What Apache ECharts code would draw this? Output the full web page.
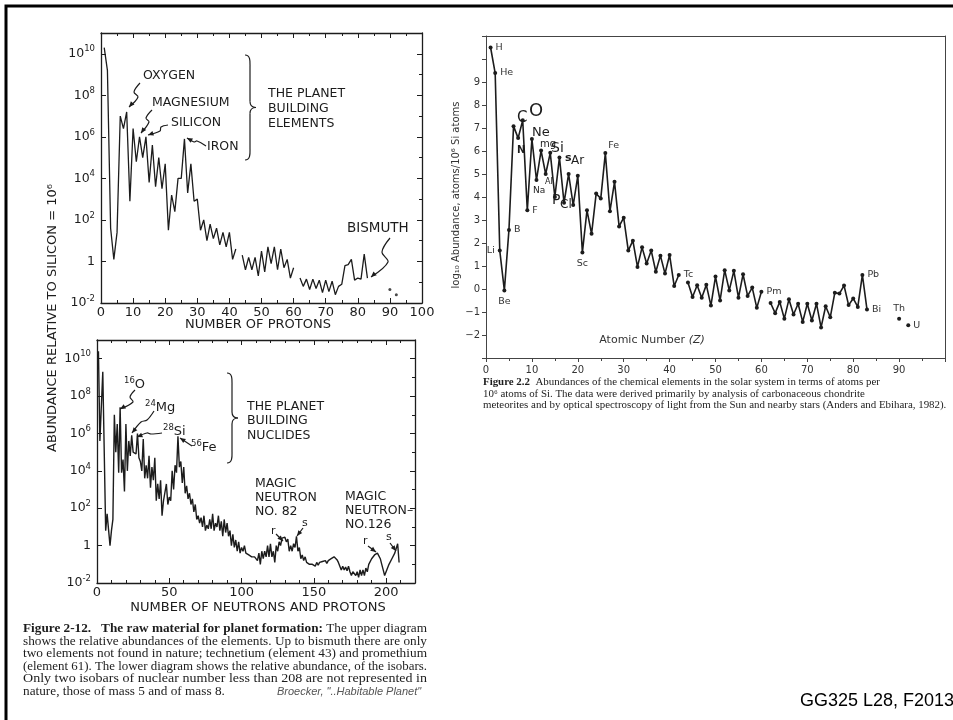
<!DOCTYPE html>
<html><head><meta charset="utf-8">
<script src="https://cdn.jsdelivr.net/npm/echarts@6/dist/echarts.min.js"></script>
<style>html,body{margin:0;padding:0;background:#fff}#c{width:953px;height:720px}</style>
</head><body><div id="c"></div>
<script>
// ---------------- DATA ----------------
// Upper-left: log10 abundance (Si = 10^6) vs number of protons Z = 1..92 (null = not plotted)
const protonLogAbund = [
  10.3, 9.2, 1.6, 0.1, 1.4, 7.0, 6.4, 7.2, 2.9, 6.4,
  4.8, 6.0, 5.0, 6.0, 3.8, 5.6, 3.6, 5.0, 3.5, 4.7,
  1.5, 3.2, 2.4, 4.0, 4.0, 5.9, 3.3, 4.7, 2.9, 3.0,
  1.5, 2.0, 1.0, 1.8, 1.1, 1.6, 0.8, 1.4, 0.7, 1.4,
  0.1, 0.6, null, 0.3, -0.4, 0.2, -0.4, 0.2, -0.7, 0.5,
  -0.5, 0.7, -0.1, 0.7, -0.4, 0.6, -0.3, 0.1, -0.8, -0.3,
  null, -0.8, -1.2, -0.85, -1.35, -0.85, -1.3, -0.9, -1.5, -0.9,
  -1.45, -0.95, -1.6, -1.2, -1.1, -0.2, -0.15, 0.1, -0.9, -0.8,
  -0.85, 0.35, -0.8, null, null, null, null, null, null, -1.35,
  null, -1.6
];
// Lower-left: log10 abundance vs mass number A = 1..209 (null = mass 5 and 8, not in nature)
const massLogAbund = [
  10.4, 5.6, 5.5, 9.3, null, 0.8, 1.7, null, 0.0, 0.8,
  1.4, 7.0, 5.0, 6.5, 3.9, 7.4, 3.9, 4.6, 2.9, 6.5,
  4.0, 5.6, 4.8, 5.9, 5.0, 5.1, 4.9, 6.0, 4.7, 4.5,
  4.0, 5.7, 3.6, 4.3, 3.6, 4.8, 3.1, 4.2, 3.5, 4.7,
  2.4, 3.3, 2.5, 3.5, 1.6, 2.4, 2.3, 3.3, 2.2, 2.6,
  2.4, 4.0, 3.0, 4.3, 3.9, 5.85, 4.2, 4.5, 3.35, 4.2,
  2.8, 3.2, 2.5, 2.8, 2.2, 2.5, 1.8, 2.2, 1.4, 1.6,
  1.2, 1.5, 1.0, 1.6, 0.8, 1.1, 0.9, 1.4, 0.9, 1.7,
  0.8, 1.2, 1.0, 1.6, 0.8, 1.3, 0.5, 1.4, 0.7, 1.2,
  0.5, 0.8, 0.0, 0.6, -0.1, 0.3, -0.3, 0.2, -0.4, -0.1,
  -0.3, 0.0, -0.4, -0.3, -0.5, -0.4, -0.6, -0.5, -0.6, -0.5,
  -0.8, -0.4, -1.0, -0.3, -0.7, -0.3, -0.6, 0.0, -0.6, 0.1,
  -0.6, -0.3, -0.9, 0.0, -0.3, 0.2, 0.0, 0.4, 0.4, 0.45,
  0.2, 0.35, -0.3, 0.0, -0.3, 0.1, -0.1, 0.5, -0.3, -0.1,
  -0.7, -0.5, -0.8, -0.6, -0.9, -0.8, -1.0, -0.9, -1.0, -0.95,
  -1.1, -0.9, -1.05, -0.9, -1.0, -0.85, -0.95, -0.8, -0.95, -0.8,
  -0.85, -0.7, -0.8, -0.6, -0.7, -0.75, -0.9, -0.95, -1.3, -1.1,
  -1.3, -1.15, -1.35, -1.1, -1.4, -1.6, -1.4, -1.3, -1.6, -1.4,
  -1.7, -1.3, -1.6, -1.3, -1.6, -1.2, -1.4, -1.0, -0.9, -0.7,
  -0.6, -0.5, -0.45, -0.4, -0.45, -0.7, -1.0, -1.3, -1.6, -1.4,
  -1.3, -1.0, -1.0, -0.7, -0.6, -0.4, -0.3, 0.1, -0.9
];
// Right: log10 abundance (atoms / 10^6 Si atoms) vs atomic number Z = 1..92
const solarLogAbund = [
  10.5, 9.39, 1.67, -0.06, 2.57, 7.08, 6.56, 7.34, 3.42, 6.52,
  4.74, 6.02, 5.0, 5.92, 4.0, 5.72, 3.75, 5.0, 3.65, 4.92,
  1.59, 3.42, 2.4, 4.15, 3.93, 5.91, 3.38, 4.66, 2.72, 3.1,
  1.67, 2.1, 0.96, 1.81, 1.11, 1.67, 0.75, 1.45, 0.67, 1.48,
  0.13, 0.61, null, 0.28, -0.35, 0.16, -0.38, 0.18, -0.72, 0.54,
  -0.5, 0.82, -0.06, 0.79, -0.38, 0.64, -0.3, 0.06, -0.82, -0.12,
  null, -0.61, -1.05, -0.56, -1.29, -0.45, -1.11, -0.64, -1.43, -0.64,
  -1.37, -0.64, -1.67, -0.75, -1.23, -0.16, -0.2, 0.15, -0.7, -0.41,
  -0.78, 0.61, -0.89, null, null, null, null, null, null, -1.29,
  null, -1.58
];
// element labels on the right chart: [Z, text, label position]
const solarLabels = [
  [1, 'H', 'right'], [2, 'He', 'right'], [3, 'Li', 'left'], [4, 'Be', 'bottom'],
  [5, 'B', 'right'], [9, 'F', 'right'], [21, 'Sc', 'bottom'], [26, 'Fe', 'insideBottomLeft'],
  [42, 'Tc', 'right'], [60, 'Pm', 'right'], [82, 'Pb', 'right'], [83, 'Bi', 'right'],
  [90, 'Th', 'top'], [92, 'U', 'right']
];

// ---------------- BUILD ----------------
const INK = '#1c1c1c';
const F = 'DejaVu Sans';
const toPairs = arr => arr.map((v, i) => [i + 1, v]);
const isolated = arr => arr.map((v, i) => [i + 1, v])
  .filter((p, i) => p[1] !== null && (i === 0 || arr[i - 1] === null) && (i === arr.length - 1 || arr[i + 1] === null));

const solarData = solarLogAbund.map((v, i) => {
  const z = i + 1;
  const lab = solarLabels.find(l => l[0] === z);
  if (!lab) return [z, v];
  const pos = lab[2];
  return {
    value: [z, v],
    label: {
      show: true, formatter: lab[1], position: pos === 'insideBottomLeft' ? [5, -11] : pos,
      distance: pos === 'bottom' ? 4 : 3, fontSize: 9.5, fontFamily: F, color: '#333'
    }
  };
});

const supFmt = v => v > 10 ? '' : (v === 0 ? '{b|1}' : '{b|10}{s|' + v + '}');
const supRich = {
  b: { fontSize: 12.5, fontFamily: F, color: INK },
  s: { fontSize: 8.5, fontFamily: F, color: INK, padding: [0, 0, 9, 0] }
};

function boxAxes(grid, xmin, xmax, xint, xminor, xLabelMax) {
  const line = { show: true, onZero: false, lineStyle: { color: INK, width: 1.3 } };
  return {
    x: [
      { gridIndex: grid, type: 'value', min: xmin, max: xmax, interval: xint, position: 'bottom',
        axisLine: line, axisTick: { inside: true, length: 5, lineStyle: { color: INK } },
        minorTick: { show: true, splitNumber: xminor, length: 3, lineStyle: { color: INK } },
        axisLabel: { fontSize: 13, fontFamily: F, color: INK, margin: 3,
          formatter: v => v > xLabelMax ? '' : String(v) }, splitLine: { show: false } },
      { gridIndex: grid, type: 'value', min: xmin, max: xmax, interval: xint, position: 'top',
        axisLine: line, axisTick: { inside: true, length: 5, lineStyle: { color: INK } },
        minorTick: { show: true, splitNumber: xminor, length: 3, lineStyle: { color: INK } },
        axisLabel: { show: false }, splitLine: { show: false } }
    ],
    y: [
      { gridIndex: grid, type: 'value', min: -2, max: 11, interval: 2, position: 'left',
        axisLine: line, axisTick: { inside: true, length: 5, lineStyle: { color: INK } },
        axisLabel: { formatter: supFmt, rich: supRich, margin: 6 }, splitLine: { show: false } },
      { gridIndex: grid, type: 'value', min: -2, max: 11, interval: 2, position: 'right',
        axisLine: line, axisTick: { inside: true, length: 5, lineStyle: { color: INK } },
        minorTick: { show: true, splitNumber: 2, length: 3, lineStyle: { color: INK } },
        axisLabel: { show: false }, splitLine: { show: false } }
    ]
  };
}
const a0 = boxAxes(0, 0, 100, 10, 2, 100);
const a1 = boxAxes(1, 0, 220, 50, 5, 200);
const thin = { show: true, onZero: false, lineStyle: { color: '#444', width: 1 } };
const rightX = [
  { gridIndex: 2, type: 'value', min: 0, max: 100, interval: 10, position: 'bottom',
    axisLine: thin, axisTick: { length: 4, lineStyle: { color: '#444' } },
    minorTick: { show: true, splitNumber: 2, length: 3, lineStyle: { color: '#444' } },
    axisLabel: { fontSize: 10, fontFamily: F, color: '#333', margin: 7,
      formatter: v => v === 100 ? '' : String(v) }, splitLine: { show: false } },
  { gridIndex: 2, type: 'value', min: 0, max: 100, position: 'top', axisLine: thin,
    axisTick: { show: false }, axisLabel: { show: false }, splitLine: { show: false } }
];
const rightY = [
  { gridIndex: 2, type: 'value', min: -3, max: 11, interval: 1, position: 'left',
    axisLine: thin, axisTick: { length: 4, lineStyle: { color: '#444' } },
    axisLabel: { fontSize: 10, fontFamily: F, color: '#333', margin: 6,
      formatter: v => (v >= -2 && v <= 9) ? (v < 0 ? '\u2212' + (-v) : String(v)) : '' },
    splitLine: { show: false } },
  { gridIndex: 2, type: 'value', min: -3, max: 11, position: 'right', axisLine: thin,
    axisTick: { show: false }, axisLabel: { show: false }, splitLine: { show: false } }
];

// ---------------- ANNOTATIONS ----------------
const mctx = document.createElement('canvas').getContext('2d');
function measure(px, family, weight, text) {
  mctx.font = (weight || 'normal') + ' ' + px + 'px "' + family + '"';
  return mctx.measureText(text).width;
}
function txt(x, y, text, o) {
  o = o || {};
  return { type: 'text', x: x, y: y, rotation: o.rot || 0, scaleX: o.sx || 1, z: 100,
    style: { text: text, fill: o.color || INK, fontSize: o.size || 12.5, fontFamily: o.font || F,
      fontWeight: o.weight || 'normal', fontStyle: o.style || 'normal',
      align: o.align || 'left', textAlign: o.align || 'left',
      verticalAlign: 'middle', textVerticalAlign: 'middle', rich: o.rich } };
}
function arrow(pts) {
  const n = pts.length;
  const [x1, y1] = pts[n - 2], [x2, y2] = pts[n - 1];
  const a = Math.atan2(y2 - y1, x2 - x1), L = 6, w = 0.42;
  return [
    { type: 'polyline', z: 100, shape: { points: pts, smooth: 0.35 }, style: { stroke: INK, lineWidth: 1.2, fill: null } },
    { type: 'polygon', z: 100, shape: { points: [[x2, y2], [x2 - L * Math.cos(a - w), y2 - L * Math.sin(a - w)], [x2 - L * Math.cos(a + w), y2 - L * Math.sin(a + w)]] },
      style: { fill: INK } }
  ];
}
function brace(x, y1, y2) {
  const m = (y1 + y2) / 2;
  const st = { stroke: INK, lineWidth: 1.2, fill: null };
  return [
    { type: 'bezierCurve', z: 100, shape: { x1: x - 5, y1: y1, cpx1: x + 1, cpy1: y1, cpx2: x, cpy2: y1 + 8, x2: x, y2: y1 + 12 }, style: st },
    { type: 'line', z: 100, shape: { x1: x, y1: y1 + 12, x2: x, y2: m - 6 }, style: st },
    { type: 'bezierCurve', z: 100, shape: { x1: x, y1: m - 6, cpx1: x, cpy1: m - 1, cpx2: x + 3, cpy2: m, x2: x + 6, y2: m }, style: st },
    { type: 'bezierCurve', z: 100, shape: { x1: x + 6, y1: m, cpx1: x + 3, cpy1: m, cpx2: x, cpy2: m + 1, x2: x, y2: m + 6 }, style: st },
    { type: 'line', z: 100, shape: { x1: x, y1: m + 6, x2: x, y2: y2 - 12 }, style: st },
    { type: 'bezierCurve', z: 100, shape: { x1: x, y1: y2 - 12, cpx1: x, cpy1: y2 - 8, cpx2: x + 1, cpy2: y2, x2: x - 5, y2: y2 }, style: st }
  ];
}
// left caption: justified to the column width
const CAP = 'Liberation Serif', CS = 12.5, CAPW = 404;
const capBold = 'Figure 2-12.   The raw material for planet formation:';
const capLines = [
  ' The upper diagram',
  'shows the relative abundances of the elements. Up to bismuth there are only',
  'two elements not found in nature; technetium (element 43) and promethium',
  '(element 61). The lower diagram shows the relative abundance, of the isobars.',
  'Only two isobars of nuclear number less than 208 are not represented in',
  'nature, those of mass 5 and of mass 8.'
];
const capScale = capLines.map((t, i) => {
  const w = measure(CS, CAP, 'normal', t) + (i === 0 ? measure(CS, CAP, 'bold', capBold) : 0);
  return CAPW / w;
});
capScale[5] = capScale[1];
const capY = [629, 642, 654, 667, 679, 692];
const capGraphics = capLines.map((t, i) => i === 0
  ? txt(23, capY[0], '{b|' + capBold + '}' + t, { font: CAP, size: CS, sx: capScale[0],
      rich: { b: { fontWeight: 'bold', fontFamily: CAP, fontSize: CS, color: INK } } })
  : txt(23, capY[i], t, { font: CAP, size: CS, sx: capScale[i] }));

const supR = { b: { fontSize: 13, fontFamily: F, color: INK }, s: { fontSize: 8.5, fontFamily: F, color: INK, padding: [0, 0, 9, 0] } };
const hand = 'DejaVu Sans';
const graphics = [
  // slide frame
  { type: 'rect', z: 50, shape: { x: 6, y: 6, width: 980, height: 760 }, style: { stroke: '#000', lineWidth: 3, fill: null } },
  // shared left y-axis title
  txt(53, 318, 'ABUNDANCE RELATIVE TO SILICON = 10\u2076', { rot: Math.PI / 2, align: 'center', size: 13 }),
  // upper-left chart
  txt(258, 325, 'NUMBER OF PROTONS', { align: 'center', size: 13 }),
  txt(143, 76, 'OXYGEN'), txt(152, 103, 'MAGNESIUM'), txt(171, 123, 'SILICON'), txt(207, 147, 'IRON'),
  txt(268, 94, 'THE PLANET'), txt(268, 109, 'BUILDING'), txt(268, 124, 'ELEMENTS'),
  txt(347, 228, 'BISMUTH', { size: 13.5 }),
  ...arrow([[140, 83], [134, 92], [138, 97], [129, 107]]),
  ...arrow([[152, 110], [146, 118], [149, 122], [141, 133]]),
  ...arrow([[168, 125], [161, 127], [160, 131], [148, 135]]),
  ...arrow([[206, 146], [197, 141], [194, 142], [187, 138]]),
  ...arrow([[390, 238], [382, 252], [388, 262], [371, 277]]),
  ...brace(250, 55, 160),
  // lower-left chart
  txt(258, 608, 'NUMBER OF NEUTRONS AND PROTONS', { align: 'center', size: 13 }),
  txt(124, 385, '{s|16}{b|O}', { rich: supR }),
  txt(145, 408, '{s|24}{b|Mg}', { rich: supR }),
  txt(163, 432, '{s|28}{b|Si}', { rich: supR }),
  txt(191, 448, '{s|56}{b|Fe}', { rich: supR }),
  ...arrow([[135, 390], [130, 397], [133, 402], [120, 409]]),
  ...arrow([[154, 411], [147, 420], [141, 422], [132, 433]]),
  ...arrow([[162, 433], [151, 434], [147, 433], [137, 437]]),
  ...arrow([[192, 446], [180, 438]]),
  ...brace(232, 373, 463),
  txt(247, 407, 'THE PLANET'), txt(247, 421, 'BUILDING'), txt(247, 436, 'NUCLIDES'),
  txt(255, 484, 'MAGIC'), txt(255, 498, 'NEUTRON'), txt(255, 512, 'NO. 82'),
  txt(345, 497, 'MAGIC'), txt(345, 511, 'NEUTRON\u2013'), txt(345, 525, 'NO.126'),
  txt(271, 531, 'r', { size: 11 }), ...arrow([[276, 534], [283, 541]]),
  txt(302, 523, 's', { size: 11 }), ...arrow([[303, 528], [297, 536]]),
  txt(363, 541, 'r', { size: 11 }), ...arrow([[368, 546], [376, 552]]),
  txt(386, 537, 's', { size: 11 }), ...arrow([[390, 543], [396, 551]]),
  // left caption
  ...capGraphics,
  txt(277, 692, 'Broecker, "..Habitable Planet"', { font: 'Liberation Sans', size: 11, style: 'italic', color: '#555' }),
  // right chart
  txt(456, 195, 'log\u2081\u2080 Abundance, atoms/10\u2076 Si atoms', { rot: Math.PI / 2, align: 'center', size: 10, color: '#333' }),
  txt(652, 340, 'Atomic Number {i|(Z)}', { align: 'center', size: 11, color: '#333',
    rich: { i: { fontStyle: 'italic', fontSize: 11, fontFamily: F, color: '#333' } } }),
  txt(517, 118, 'C', { size: 15, font: hand }), txt(529, 111, 'O', { size: 18, font: hand }),
  txt(517, 150, 'N', { size: 10, font: hand, weight: 'bold' }),
  txt(532, 133, 'Ne', { size: 13, font: hand }), txt(540, 144, 'mg', { size: 10, font: hand }),
  txt(551, 148, 'Si', { size: 14, font: hand }), txt(565, 158, 's', { size: 11, font: hand, weight: 'bold' }),
  txt(571, 161, 'Ar', { size: 12, font: hand }),
  txt(533, 191, 'Na', { size: 9, font: hand }), txt(545, 182, 'Al', { size: 8, font: hand }),
  txt(552, 200, 'P', { size: 14, font: hand }), txt(560, 205, 'Cl', { size: 12, font: hand }),
  // right caption
  txt(483, 382, '{b|Figure 2.2}  Abundances of the chemical elements in the solar system in terms of atoms per',
    { font: 'Liberation Serif', size: 10.9, rich: { b: { fontWeight: 'bold', fontFamily: 'Liberation Serif', fontSize: 10.9, color: INK } } }),
  txt(483, 394, '10\u2076 atoms of Si. The data were derived primarily by analysis of carbonaceous chondrite', { font: 'Liberation Serif', size: 10.9 }),
  txt(483, 405, 'meteorites and by optical spectroscopy of light from the Sun and nearby stars (Anders and Ebihara, 1982).', { font: 'Liberation Serif', size: 10.9 }),
  // footer
  txt(800, 701, 'GG325 L28, F2013', { font: 'Liberation Sans', size: 18, color: '#000' })
];

const option = {
  animation: false,
  backgroundColor: '#fff',
  grid: [
    { left: 101, top: 33, width: 321, height: 270 },
    { left: 97, top: 340, width: 318, height: 243 },
    { left: 486, top: 36, width: 459, height: 322 }
  ],
  xAxis: [...a0.x, ...a1.x, ...rightX],
  yAxis: [...a0.y, ...a1.y, ...rightY],
  series: [
    { type: 'line', xAxisIndex: 0, yAxisIndex: 0, data: toPairs(protonLogAbund), symbol: 'none',
      connectNulls: false, lineStyle: { color: INK, width: 1.3 } },
    { type: 'scatter', xAxisIndex: 0, yAxisIndex: 0, data: isolated(protonLogAbund), symbolSize: 3,
      itemStyle: { color: INK } },
    { type: 'line', xAxisIndex: 2, yAxisIndex: 2, data: toPairs(massLogAbund), symbol: 'none',
      connectNulls: true, lineStyle: { color: INK, width: 1.4 } },
    { type: 'line', xAxisIndex: 4, yAxisIndex: 4, data: solarData, symbol: 'circle', symbolSize: 4,
      showAllSymbol: true, connectNulls: false, lineStyle: { color: INK, width: 1.6 },
      itemStyle: { color: INK } }
  ],
  graphic: graphics
};
const chart = echarts.init(document.getElementById('c'));
chart.setOption(option);
</script></body></html>
